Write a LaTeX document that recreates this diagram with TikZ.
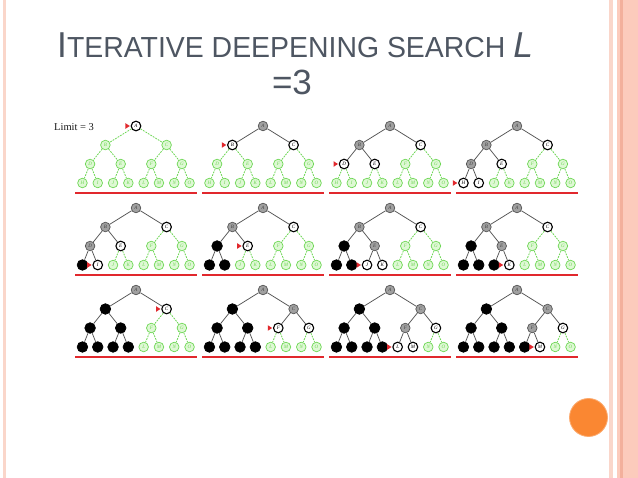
\documentclass[tikz,border=0pt]{standalone}
\usepackage{fontspec}
\setmainfont{Liberation Sans}
\newfontfamily\serifface{Liberation Serif}
\usepackage{graphicx}
\definecolor{titlecol}{RGB}{78,86,98}
\definecolor{lgreen}{RGB}{110,215,85}
\definecolor{pgreen}{RGB}{222,248,212}
\definecolor{mgray}{RGB}{160,160,160}
\definecolor{dgray}{RGB}{85,85,85}
\definecolor{markred}{RGB}{225,40,45}
\definecolor{pinkA}{RGB}{250,214,202}
\definecolor{pinkB}{RGB}{252,203,188}
\definecolor{pinkC}{RGB}{243,176,156}
\definecolor{orangeC}{RGB}{250,135,50}
\definecolor{orangeD}{RGB}{252,170,110}
\tikzset{
  tnode/.style={circle,minimum size=9.6pt,inner sep=0pt,line width=0.7pt,
    font=\serifface\itshape\fontsize{5}{5}\selectfont},
  nodeg/.style={tnode,draw=lgreen,fill=pgreen,text=lgreen},
  nodef/.style={tnode,draw=black,fill=white,line width=1.1pt,text=black},
  nodex/.style={tnode,draw=dgray,fill=mgray,text=black!75},
  nodeb/.style={tnode,draw=black,fill=black,minimum size=10.6pt},
  edgeg/.style={draw=lgreen,line width=0.8pt,dash pattern=on 1.8pt off 1.1pt},
  edgex/.style={draw=dgray,line width=0.75pt},
  redline/.style={draw=markred,line width=1.5pt},
  marker/.style={fill=markred},
}
% node offsets
\def\setpos#1#2#3{\expandafter\def\csname px#1\endcsname{#2}\expandafter\def\csname py#1\endcsname{#3}}
\setpos{A}{0}{0}
\setpos{B}{-30.6}{19}\setpos{C}{30.6}{19}
\setpos{D}{-45.9}{38}\setpos{E}{-15.3}{38}\setpos{F}{15.3}{38}\setpos{G}{45.9}{38}
\setpos{H}{-53.55}{57}\setpos{I}{-38.25}{57}\setpos{J}{-22.95}{57}\setpos{K}{-7.65}{57}
\setpos{L}{7.65}{57}\setpos{M}{22.95}{57}\setpos{N}{38.25}{57}\setpos{O}{53.55}{57}
\newcommand\treepanel[7]{%
  \foreach \n in {A,B,C,D,E,F,G,H,I,J,K,L,M,N,O}{\expandafter\xdef\csname ns\n\endcsname{g}}%
  \foreach \n in {#4}{\expandafter\xdef\csname ns\n\endcsname{c}}%
  \foreach \n in {#5}{\expandafter\xdef\csname ns\n\endcsname{f}}%
  \foreach \n in {#6}{\expandafter\xdef\csname ns\n\endcsname{x}}%
  \foreach \n in {#7}{\expandafter\xdef\csname ns\n\endcsname{b}}%
  \foreach \n in {A,B,C,D,E,F,G,H,I,J,K,L,M,N,O}{%
    \edef\s{\csname ns\n\endcsname}%
    \edef\xx{\csname px\n\endcsname}\edef\yy{\csname py\n\endcsname}%
    \if g\s \node[nodeg] (#1\n) at ({#2+\xx},{#3+\yy}) {\n};\fi
    \if f\s \node[nodef] (#1\n) at ({#2+\xx},{#3+\yy}) {\n};\fi
    \if c\s \node[nodef] (#1\n) at ({#2+\xx},{#3+\yy}) {\n};
      \fill[marker] ([xshift=-0.8pt]#1\n.west) -- ++(-4.4,2.8) -- ++(0,-5.6) -- cycle;\fi
    \if x\s \node[nodex] (#1\n) at ({#2+\xx},{#3+\yy}) {\n};\fi
    \if b\s \node[nodeb] (#1\n) at ({#2+\xx},{#3+\yy}) {};\fi
  }%
  \foreach \p/\c in {A/B,A/C,B/D,B/E,C/F,C/G,D/H,D/I,E/J,E/K,F/L,F/M,G/N,G/O}{%
    \edef\s{\csname ns\c\endcsname}%
    \if g\s \draw[edgeg] (#1\p) -- (#1\c);\else \draw[edgex] (#1\p) -- (#1\c);\fi
  }%
  \coordinate (#1rl) at ({#2-61},{#3+67});
  \coordinate (#1rr) at ({#2+61},{#3+67});
  \draw[redline] (#1rl) -- (#1rr);
}
\begin{document}
\begin{tikzpicture}[x=1pt,y=-1pt]
\useasboundingbox (0,0) rectangle (638,478);
\fill[white] (0,0) rectangle (638,478);
% borders
\fill[pinkA] (3,0) rectangle (6,478);
\fill[pinkA] (609,0) rectangle (612.5,478);
\fill[pinkB] (617,0) rectangle (638,478);
\fill[pinkC] (620,0) rectangle (623,478);
% orange circle
\fill[orangeC,draw=orangeD,line width=0.8pt] (588.5,417.5) circle (19);
% title
\node[anchor=base west,text=titlecol,inner sep=0pt] (title) at (57,58)
  {\scalebox{0.98}[1]{\fontsize{36}{36}\selectfont I\fontsize{29}{29}\selectfont TERATIVE DEEPENING SEARCH \fontsize{36}{36}\selectfont\itshape L}};
\node[anchor=base,text=titlecol,inner sep=0pt] (title2) at (292,95)
  {\fontsize{35}{35}\selectfont =3};
\node[anchor=base west,inner sep=0pt,text=black!90] (limit) at (54,131)
  {\serifface\fontsize{10.5}{10.5}\selectfont Limit = 3};
% panels
\treepanel{a}{136}{126}{A}{Z}{Z}{Z}
\treepanel{b}{263}{126}{B}{C}{A}{Z}
\treepanel{c}{390}{126}{D}{E,C}{A,B}{Z}
\treepanel{d}{517}{126}{H}{I,E,C}{A,B,D}{Z}
\treepanel{e}{136}{208}{I}{E,C}{A,B,D}{H}
\treepanel{f}{263}{208}{E}{C}{A,B}{D,H,I}
\treepanel{g}{390}{208}{J}{K,C}{A,B,E}{D,H,I}
\treepanel{h}{517}{208}{K}{C}{A,B,E}{D,H,I,J}
\treepanel{i}{136}{290}{C}{Z}{A}{B,D,E,H,I,J,K}
\treepanel{j}{263}{290}{F}{G}{A,C}{B,D,E,H,I,J,K}
\treepanel{k}{390}{290}{L}{M,G}{A,C,F}{B,D,E,H,I,J,K}
\treepanel{l}{517}{290}{M}{G}{A,C,F}{B,D,E,H,I,J,K,L}
\end{tikzpicture}
\end{document}
